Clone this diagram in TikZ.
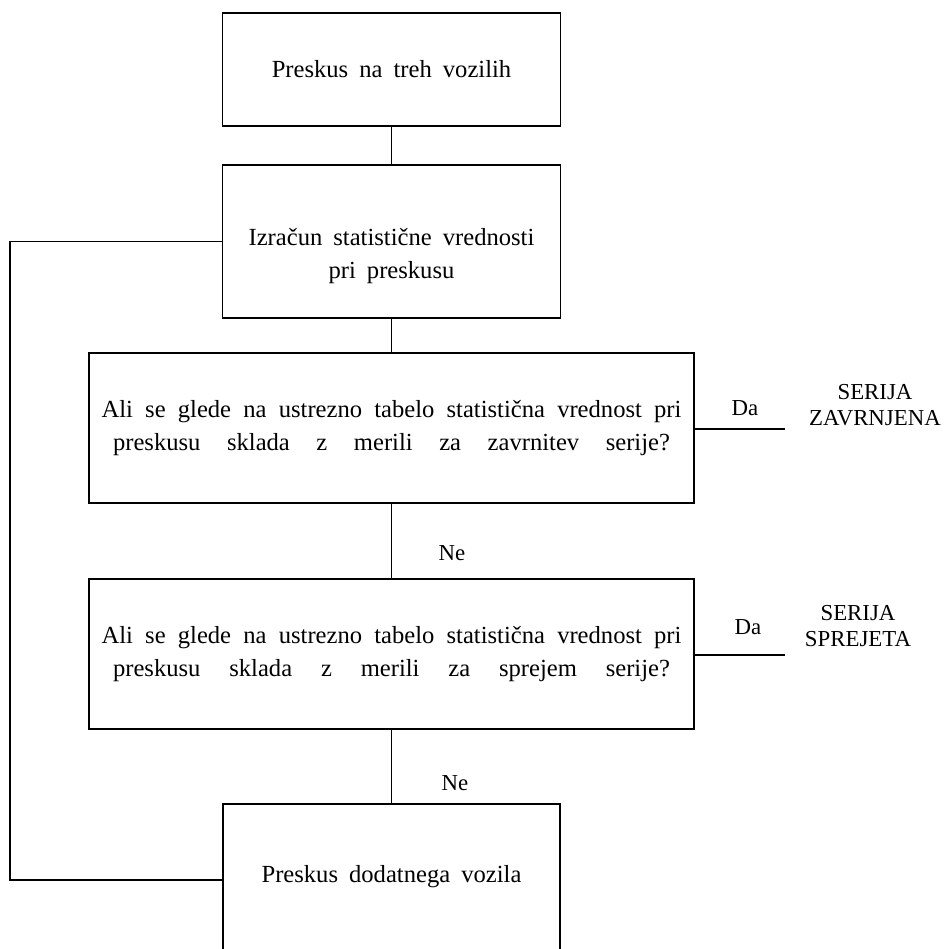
\documentclass[tikz,border=0pt]{standalone}
\usepackage{fontspec}
\setmainfont{Liberation Serif}
\usetikzlibrary{positioning, calc}

\newcommand{\widesp}{\spaceskip=0.45em plus 0.3em\relax}

\tikzset{
  stepbox/.style={draw, line width=0.8pt, align=center, inner sep=0pt,
    font=\fontsize{14}{19}\selectfont\widesp},
  flowline/.style={line width=0.8pt},
  answer/.style={font=\fontsize{13}{14.5}\selectfont\widesp, align=center},
}

\begin{document}
\begin{tikzpicture}[x=0.02cm, y=-0.02cm]

% canvas in pixels of the reference: 944 x 949, y grows downwards
\useasboundingbox (0,0) rectangle (944,949);

%% ── process boxes ────────────────────────────────────────────────
\node[stepbox, minimum width=6.76cm, minimum height=2.26cm] (trial) at (391.5,69.5)
  {Preskus na treh vozilih};
\node[stepbox, minimum width=6.76cm, minimum height=3.06cm] (stat) at (391.5,241.5) {};
\node[stepbox, draw=none] (stattext) at (391.5,256)
  {Izračun statistične vrednosti\\pri preskusu};

%% ── decision boxes (justified lines) ─────────────────────────────
\node[stepbox, minimum width=12.1cm, minimum height=3.0cm] (reject) at (391.5,428)
  {\makebox[11.6cm][s]{Ali se glede na ustrezno tabelo statistična vrednost pri}\\
   \makebox[11.14cm][s]{preskusu sklada z merili za zavrnitev serije?}};
\node[stepbox, minimum width=12.1cm, minimum height=3.0cm] (accept) at (391.5,654)
  {\makebox[11.6cm][s]{Ali se glede na ustrezno tabelo statistična vrednost pri}\\
   \makebox[11.14cm][s]{preskusu sklada z merili za sprejem serije?}};

%% ── extra vehicle (frame open at the bottom) ─────────────────────
\node[stepbox, draw=none] (extra) at (391.5,877) {Preskus dodatnega vozila};
\draw[flowline] (223,949) -- (223,804) -- (560,804) -- (560,949);
\coordinate (extratop) at (391.5,804);
\coordinate (extraleft) at (223,880);

%% ── main flow ────────────────────────────────────────────────────
\draw[flowline] (trial.south) -- (stat.north);
\draw[flowline] (stat.south) -- (reject.north);
\draw[flowline] (reject.south) -- (accept.north);
\draw[flowline] (accept.south) -- (extratop);
\node[answer] (no1) at (452,553) {Ne};
\node[answer] (no2) at (455,783) {Ne};

%% ── loop back ────────────────────────────────────────────────────
\draw[flowline] (extraleft) -- (10,880) |- (stat.west);

%% ── yes exits ────────────────────────────────────────────────────
\coordinate (rejend) at (785,429);
\coordinate (accend) at (785,655);
\draw[flowline] (reject.east |- rejend) -- (rejend);
\draw[flowline] (accept.east |- accend) -- (accend);
\node[answer] (yes1) at (745,408) {Da};
\node[answer] (yes2) at (748,627) {Da};
\node[answer] (rejected) at (875,405) {SERIJA\\ZAVRNJENA};
\node[answer] (accepted) at (858,626) {SERIJA\\SPREJETA};

\end{tikzpicture}
\end{document}
